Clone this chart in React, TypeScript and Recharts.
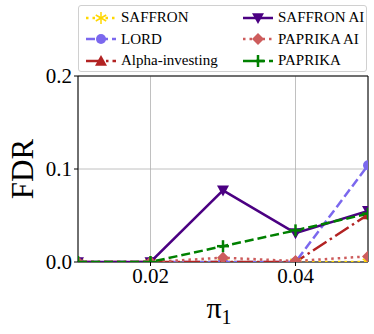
import React from 'react';
import { LineChart, Line, XAxis, YAxis, CartesianGrid, ReferenceArea } from 'recharts';

const pi1 = [0.01, 0.02, 0.03, 0.04, 0.05];
const saffron = [0, 0, 0, 0, 0];
const lord = [0, 0, 0, 0, 0.104];
const alphaInvesting = [0, 0, 0, 0, 0.051];
const saffronAI = [0, 0, 0.077, 0.031, 0.055];
const paprikaAI = [0, 0, 0.0046, 0.001, 0.006];
const paprika = [0, 0, 0.017, 0.034, 0.052];

const xTicks = [0.02, 0.04];
const yTicks = [0, 0.1, 0.2];

const data = pi1.map((x, i) => ({
  x,
  saffron: saffron[i],
  lord: lord[i],
  alpha: alphaInvesting[i],
  saffronAI: saffronAI[i],
  paprikaAI: paprikaAI[i],
  paprika: paprika[i],
}));

const FONT = 'Liberation Serif';

type Shape = 'star' | 'circle' | 'up' | 'down' | 'diamond' | 'plus';

const series: { key: string; name: string; color: string; dash?: string; shape: Shape }[] = [
  { key: 'saffron', name: 'SAFFRON', color: '#FFD700', dash: '2.5 4', shape: 'star' },
  { key: 'lord', name: 'LORD', color: '#7B68EE', dash: '9 4', shape: 'circle' },
  { key: 'alpha', name: 'Alpha-investing', color: '#B22222', dash: '16 4 2.5 4', shape: 'up' },
  { key: 'saffronAI', name: 'SAFFRON AI', color: '#4B0082', shape: 'down' },
  { key: 'paprikaAI', name: 'PAPRIKA AI', color: '#CD5C5C', dash: '2.5 4', shape: 'diamond' },
  { key: 'paprika', name: 'PAPRIKA', color: '#008000', dash: '9 4', shape: 'plus' },
];

function Marker({ shape, cx, cy, color }: { shape: Shape; cx: number; cy: number; color: string }) {
  const s = 6;
  switch (shape) {
    case 'star':
      return (
        <g stroke={color} strokeWidth={1.5}>
          <line x1={cx} y1={cy - s} x2={cx} y2={cy + s} />
          <line x1={cx - s * 0.87} y1={cy - s / 2} x2={cx + s * 0.87} y2={cy + s / 2} />
          <line x1={cx - s * 0.87} y1={cy + s / 2} x2={cx + s * 0.87} y2={cy - s / 2} />
        </g>
      );
    case 'circle':
      return <circle cx={cx} cy={cy} r={5} fill={color} />;
    case 'up':
      return <polygon points={`${cx},${cy - s} ${cx - s},${cy + s * 0.8} ${cx + s},${cy + s * 0.8}`} fill={color} />;
    case 'down':
      return <polygon points={`${cx},${cy + s} ${cx - s},${cy - s * 0.8} ${cx + s},${cy - s * 0.8}`} fill={color} />;
    case 'diamond':
      return <polygon points={`${cx},${cy - s} ${cx + s},${cy} ${cx},${cy + s} ${cx - s},${cy}`} fill={color} />;
    case 'plus':
      return (
        <g stroke={color} strokeWidth={2.5}>
          <line x1={cx - s} y1={cy} x2={cx + s} y2={cy} />
          <line x1={cx} y1={cy - s} x2={cx} y2={cy + s} />
        </g>
      );
  }
  return null;
}

const makeDot = (shape: Shape, color: string) => (props: any) => {
  const { cx, cy, index } = props;
  if (cx == null || cy == null) return <g key={index} />;
  return <Marker key={index} shape={shape} cx={cx} cy={cy} color={color} />;
};

const LegendBox = () => {
  const col1 = series.slice(0, 3);
  const col2 = series.slice(3);
  const entry = (s: (typeof series)[number]) => (
    <div key={s.key} style={{ display: 'flex', alignItems: 'center', height: 21.5 }}>
      <svg width={32} height={14} style={{ marginRight: 4 }}>
        <line x1={1} y1={7} x2={31} y2={7} stroke={s.color} strokeWidth={2.5} strokeDasharray={s.dash} />
        <Marker shape={s.shape} cx={16} cy={7} color={s.color} />
      </svg>
      <span>{s.name}</span>
    </div>
  );
  return (
    <div
      style={{
        position: 'absolute',
        left: 78,
        top: 5,
        width: 289,
        height: 67,
        boxSizing: 'border-box',
        border: '1px solid #d0d0d0',
        borderRadius: 3,
        background: '#fff',
        fontFamily: FONT,
        fontSize: 15,
        color: '#000',
        display: 'flex',
        padding: '1px 0 0 6px',
      }}
    >
      <div style={{ width: 157 }}>{col1.map(entry)}</div>
      <div>{col2.map(entry)}</div>
    </div>
  );
};

export default function App() {
  return (
    <div style={{ position: 'relative', width: 374, height: 334, background: '#fff' }}>
      <style>{'body{margin:0}'}</style>
      <LineChart width={374} height={334} data={data} margin={{ top: 76, right: 6, bottom: 0, left: 0 }}>
        <CartesianGrid stroke="#b0b0b0" strokeWidth={0.8} />
        <ReferenceArea x1={0.01} x2={0.05} y1={0} y2={0.2} fill="none" stroke="#000" strokeWidth={1} />
        <XAxis
          type="number"
          dataKey="x"
          domain={[0.01, 0.05]}
          ticks={xTicks}
          allowDataOverflow
          tickFormatter={(v: number) => v.toFixed(2)}
          height={72}
          tickSize={4}
          tickMargin={2}
          axisLine={false}
          tickLine={{ stroke: '#000' }}
          tick={{ fill: '#000', fontSize: 21, fontFamily: FONT }}
          label={(p: any) => {
            const vb = p.viewBox;
            return (
              <text x={vb.x + vb.width / 2 - 4} y={318} textAnchor="middle" fontFamily={FONT} fontSize={30} fill="#000">
                π<tspan fontSize={20} dy={6}>1</tspan>
              </text>
            );
          }}
        />
        <YAxis
          type="number"
          domain={[0, 0.2]}
          ticks={yTicks}
          allowDataOverflow
          tickFormatter={(v: number) => v.toFixed(1)}
          width={78}
          tickSize={4}
          tickMargin={2}
          axisLine={false}
          tickLine={{ stroke: '#000' }}
          tick={{ fill: '#000', fontSize: 21, fontFamily: FONT }}
          label={() => (
            <text x={33} y={169} transform="rotate(-90 33 169)" textAnchor="middle" fontFamily={FONT} fontSize={31} fill="#000">
              FDR
            </text>
          )}
        />
        {series.map((s) => (
          <Line
            key={s.key}
            dataKey={s.key}
            name={s.name}
            stroke={s.color}
            strokeWidth={2.5}
            strokeDasharray={s.dash}
            type="linear"
            dot={makeDot(s.shape, s.color)}
            activeDot={false}
            isAnimationActive={false}
          />
        ))}
      </LineChart>
      <LegendBox />
    </div>
  );
}
